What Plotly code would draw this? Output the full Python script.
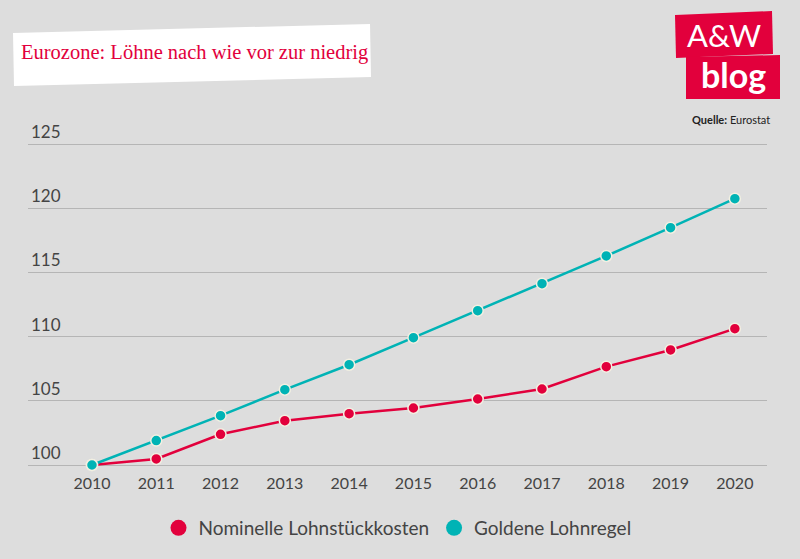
import plotly.graph_objects as go

years = [2010, 2011, 2012, 2013, 2014, 2015, 2016, 2017, 2018, 2019, 2020]
nominelle = [100.0, 100.47, 102.39, 103.45, 104.0, 104.44, 105.14, 105.92, 107.66, 108.96, 110.62]
goldene = [100.0, 101.9, 103.84, 105.87, 107.81, 109.92, 112.02, 114.12, 116.28, 118.48, 120.74]
series_names = ["Nominelle Lohnstückkosten", "Goldene Lohnregel"]
y_ticks = [100, 105, 110, 115, 120, 125]
x_ticks = years

RED = "#E2003C"
TEAL = "#00B3B5"
BG = "#DDDDDD"
TXT = "#444444"
FONT = "Lato, 'Open Sans', sans-serif"

# plot area pixel geometry
L, R, T, B = 28, 767, 110, 470
W, H = 800, 559
PXU = 12.84  # px per unit
Y100 = 465   # pixel row of value 100

def px(x):
    return (x - L) / (R - L)

def py(y):
    return (B - y) / (B - T)

fig = go.Figure()
for name, vals, col in [(series_names[0], nominelle, RED), (series_names[1], goldene, TEAL)]:
    fig.add_trace(go.Scatter(
        x=years, y=vals, mode="lines+markers", name=name, showlegend=False,
        line=dict(color=col, width=2.5),
        marker=dict(size=11, color=col, line=dict(color="#F3F0E2", width=1.5)),
        cliponaxis=False,
    ))
    fig.add_trace(go.Scatter(
        x=[None], y=[None], mode="markers", name=name, showlegend=True,
        marker=dict(size=20, color=col),
    ))

shapes = []
# tilted white title box
shapes.append(dict(type="path", xref="paper", yref="paper",
                   path=f"M {px(13)},{py(33)} L {px(370)},{py(24)} L {px(371)},{py(77)} L {px(14)},{py(86)} Z",
                   fillcolor="white", line=dict(width=0), layer="below"))
# logo boxes
shapes.append(dict(type="path", xref="paper", yref="paper",
                   path=f"M {px(675)},{py(15)} L {px(772)},{py(11)} L {px(773)},{py(54)} L {px(676)},{py(58)} Z",
                   fillcolor=RED, line=dict(width=0), layer="above"))
shapes.append(dict(type="path", xref="paper", yref="paper",
                   path=f"M {px(686)},{py(57)} L {px(780)},{py(55)} L {px(780)},{py(99)} L {px(686)},{py(99)} Z",
                   fillcolor=RED, line=dict(width=0), layer="above"))

annotations = [
    dict(text="Eurozone: Löhne nach wie vor zur niedrig", xref="paper", yref="paper",
         x=px(19), y=py(53), xanchor="left", yanchor="middle", showarrow=False,
         font=dict(family="'Liberation Serif', serif", size=20.5, color=RED)),
    dict(text="A&W", xref="paper", yref="paper", x=px(724), y=py(35), xanchor="center", yanchor="middle",
         showarrow=False, font=dict(family="Lato, sans-serif", size=31, color="white")),
    dict(text="<b>blog</b>", xref="paper", yref="paper", x=px(733), y=py(75), xanchor="center", yanchor="middle",
         showarrow=False, font=dict(family="Lato, sans-serif", size=34, color="white")),
    dict(text="<b>Quelle:</b> Eurostat", xref="paper", yref="paper", x=px(772), y=py(119), xanchor="right",
         yanchor="middle", showarrow=False, font=dict(family=FONT, size=11, color="#222222")),
]

y_lo = 100 - (B - Y100) / PXU
y_hi = 100 + (Y100 - T) / PXU

fig.update_layout(
    width=W, height=H,
    paper_bgcolor=BG, plot_bgcolor=BG,
    margin=dict(l=L, r=W - R, t=T, b=H - B, pad=0),
    shapes=shapes, annotations=annotations,
    font=dict(family=FONT, color=TXT),
    legend=dict(orientation="h", x=0.5, xanchor="center", y=py(528), yanchor="middle",
                font=dict(size=19, color=TXT), bgcolor="rgba(0,0,0,0)"),
    xaxis=dict(range=[2009.005, 2020.5], tickvals=x_ticks, ticktext=[str(v) for v in x_ticks],
               showgrid=False, zeroline=False, showline=False, ticks="",
               tickfont=dict(size=16, color=TXT), ticklabelstandoff=2),
    yaxis=dict(range=[y_lo, y_hi], tickvals=y_ticks, ticktext=[str(v) for v in y_ticks],
               showgrid=True, gridcolor="#B5B5B5", gridwidth=1, zeroline=False, showline=False,
               ticks="", ticklabelposition="inside top", tickfont=dict(size=17, color=TXT)),
    showlegend=True,
)

fig.write_html("out.html", config={"displayModeBar": False},
               post_script="document.body.style.margin='0px';")
